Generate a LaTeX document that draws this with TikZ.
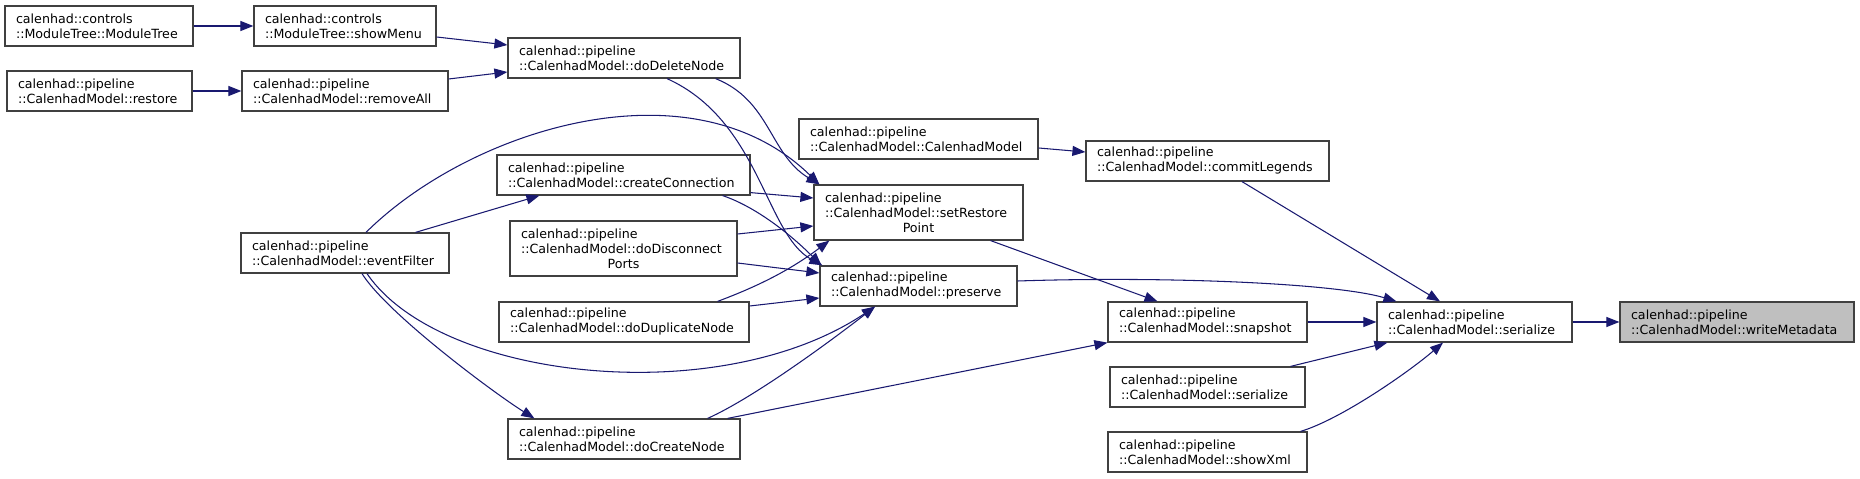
\documentclass[tikz,border=0pt]{standalone}
\usepackage{fontspec}
\setmainfont{DejaVu Sans}
\usetikzlibrary{arrows.meta}
\definecolor{edgeblue}{RGB}{25,25,112}
\definecolor{boxborder}{RGB}{64,64,64}
\definecolor{focusgray}{RGB}{191,191,191}
\newcommand{\graphfont}{\fontsize{7.2}{8.54}\selectfont\hyphenpenalty=10000\exhyphenpenalty=10000}
\tikzset{
    basebox/.style={
        draw=boxborder,
        line width=0.7pt,
        align=left,
        font=\graphfont,
        inner xsep=0.22cm,
        inner ysep=2pt,
        minimum height=0.8cm
    },
    callbox/.style={basebox, fill=white, text width=#1},
    tallbox/.style={callbox=#1, minimum height=1.1cm},
    focusbox/.style={basebox, fill=focusgray, text width=#1},
    callarrow/.style={-{Triangle[length=0.26cm, width=0.2cm]}, line width=0.6pt, draw=edgeblue}
}

\begin{document}
\begin{tikzpicture}[x=0.02cm, y=-0.02cm]

    \useasboundingbox (0,0) rectangle (1860,479);

    % 1. First column (outer callers)
    \node[callbox=3.32cm] (module_tree) at (99,26) {calenhad::controls\\::ModuleTree::ModuleTree};
    \node[callbox=3.26cm] (restore) at (99.5,91) {calenhad::pipeline\\::CalenhadModel::restore};

    % 2. Second column
    \node[callbox=3.20cm] (show_menu) at (345,26) {calenhad::controls\\::ModuleTree::showMenu};
    \node[callbox=3.68cm] (remove_all) at (345,91) {calenhad::pipeline\\::CalenhadModel::removeAll};
    \node[callbox=3.72cm] (event_filter) at (345,253) {calenhad::pipeline\\::CalenhadModel::eventFilter};

    % 3. Third column
    \node[callbox=4.20cm] (do_delete) at (624,58) {calenhad::pipeline\\::CalenhadModel::doDeleteNode};
    \node[callbox=4.62cm] (create_conn) at (623.5,175) {calenhad::pipeline\\::CalenhadModel::createConnection};
    \node[tallbox=4.10cm] (do_disconnect) at (623.5,248.5) {calenhad::pipeline\\::CalenhadModel::doDisconnect\\\makebox[\hsize][c]{Ports}};
    \node[callbox=4.56cm] (do_duplicate) at (624,322) {calenhad::pipeline\\::CalenhadModel::doDuplicateNode};
    \node[callbox=4.20cm] (do_create) at (624,439) {calenhad::pipeline\\::CalenhadModel::doCreateNode};

    % 4. Fourth column
    \node[callbox=4.34cm] (model_ctor) at (918.5,139) {calenhad::pipeline\\::CalenhadModel::CalenhadModel};
    \node[tallbox=3.74cm] (set_restore) at (918.5,212.5) {calenhad::pipeline\\::CalenhadModel::setRestore\\\makebox[\hsize][c]{Point}};
    \node[callbox=3.50cm] (preserve) at (918.5,286) {calenhad::pipeline\\::CalenhadModel::preserve};

    % 5. Fifth column
    \node[callbox=4.42cm] (commit_legends) at (1207.5,161) {calenhad::pipeline\\::CalenhadModel::commitLegends};
    \node[callbox=3.54cm] (snapshot) at (1207.5,322) {calenhad::pipeline\\::CalenhadModel::snapshot};
    \node[callbox=3.46cm] (serialize_out) at (1207.5,387) {calenhad::pipeline\\::CalenhadModel::serialize};
    \node[callbox=3.54cm] (show_xml) at (1207.5,452) {calenhad::pipeline\\::CalenhadModel::showXml};

    % 6. serialize and the documented function
    \node[callbox=3.46cm] (serialize) at (1474.5,322) {calenhad::pipeline\\::CalenhadModel::serialize};
    \node[focusbox=4.24cm] (write_meta) at (1737,322) {calenhad::pipeline\\::CalenhadModel::writeMetadata};

    % ==========================================
    % Calls (arrows)
    % ==========================================
    \draw[callarrow] (module_tree) -- (show_menu);
    \draw[callarrow] ([yshift=-0.22cm]show_menu.east) -- ([yshift=0.26cm]do_delete.west);
    \draw[callarrow] (restore) -- (remove_all);
    \draw[callarrow] ([yshift=0.24cm]remove_all.east) -- ([yshift=-0.28cm]do_delete.west);

    % into setRestorePoint / preserve
    \draw[callarrow] ([xshift=-0.5cm]do_delete.south east) .. controls +(55,22) and +(-50,-30) .. ([xshift=0.12cm]set_restore.north west);
    \draw[callarrow] ([xshift=0.86cm]do_delete.south) .. controls +(93,42) and +(-57,-31) .. ([xshift=0.06cm]preserve.north west);
    \draw[callarrow] ([xshift=0.42cm]event_filter.north) .. controls +(104,-103) and +(-128,-125) .. ([xshift=0.12cm]set_restore.north west);
    \draw[callarrow] ([xshift=-0.68cm]event_filter.north east) -- ([xshift=0.86cm]create_conn.south west);
    \draw[callarrow] ([yshift=0.06cm]create_conn.south east) -- ([yshift=0.29cm]set_restore.west);
    \draw[callarrow] ([xshift=-0.56cm]create_conn.south east) .. controls +(30,10) and +(-35,-35) .. ([xshift=0.04cm]preserve.north west);
    \draw[callarrow] ([yshift=0.29cm]do_disconnect.east) -- ([yshift=-0.27cm]set_restore.west);
    \draw[callarrow] ([yshift=-0.29cm]do_disconnect.east) -- ([yshift=0.26cm]preserve.west);
    \draw[callarrow] ([xshift=-0.64cm]do_duplicate.north east) .. controls +(40,-15) and +(-40,30) .. ([xshift=0.32cm]set_restore.south west);
    \draw[callarrow] ([yshift=0.32cm]do_duplicate.east) -- ([yshift=-0.24cm]preserve.west);
    \draw[callarrow] ([xshift=0.44cm]event_filter.south) .. controls +(73,107) and +(-155,104) .. ([xshift=-0.87cm]preserve.south);
    \draw[callarrow] ([xshift=0.34cm]event_filter.south) .. controls +(25,40) and +(-40,-25) .. ([xshift=0.54cm]do_create.north west);
    \draw[callarrow] ([xshift=-0.66cm]do_create.north east) .. controls +(45,-20) and +(-45,35) .. ([xshift=-0.87cm]preserve.south);

    % into snapshot / commitLegends
    \draw[callarrow] ([xshift=-0.26cm]do_create.north east) -- (snapshot.south west);
    \draw[callarrow] ([xshift=-0.66cm]set_restore.south east) -- ([xshift=-1cm]snapshot.north);
    \draw[callarrow] ([yshift=-0.18cm]model_ctor.east) -- ([yshift=0.18cm]commit_legends.west);

    % into serialize
    \draw[callarrow] ([yshift=0.1cm]preserve.east) .. controls +(150,-5) and +(-60,-18) .. ([xshift=0.4cm]serialize.north west);
    \draw[callarrow] ([xshift=0.69cm]commit_legends.south) -- ([xshift=-0.69cm]serialize.north);
    \draw[callarrow] (snapshot) -- (serialize);
    \draw[callarrow] ([xshift=-0.3cm]serialize_out.north east) -- ([xshift=0.22cm]serialize.south west);
    \draw[callarrow] ([xshift=-0.14cm]show_xml.north east) .. controls +(40,-12) and +(-35,30) .. ([xshift=-0.63cm]serialize.south);

    \draw[callarrow] (serialize) -- (write_meta);

\end{tikzpicture}
\end{document}
